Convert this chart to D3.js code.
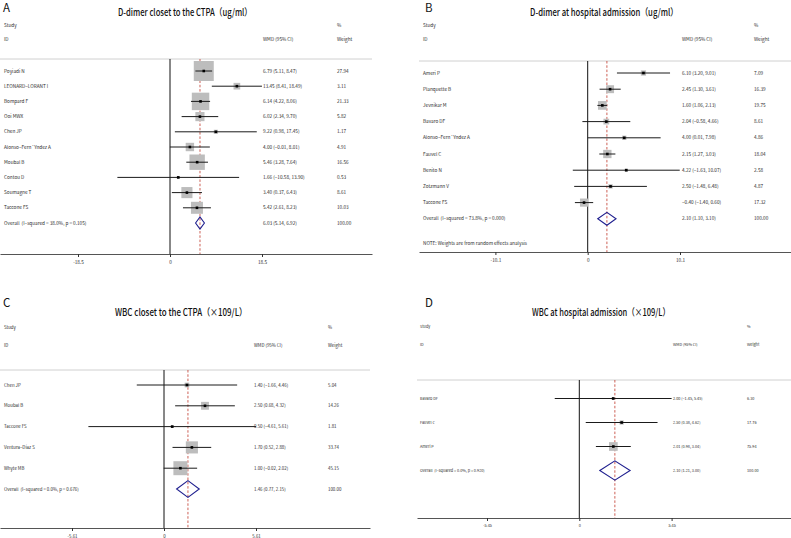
<!DOCTYPE html>
<html><head><meta charset="utf-8">
<script src="https://cdn.jsdelivr.net/npm/d3@7"></script>
<style>
body{margin:0;background:#fff}
svg{display:block}
text{font-family:"Noto Sans CJK SC","Noto Sans",sans-serif}
</style>
</head><body>
<svg id="chart" width="791" height="538"></svg>
<script>
// ---------- DATA ----------
const aTitle = "D-dimer closet to the CTPA（ug/ml）";
const aStudies = ["Poyiadi N","LEONARD−LORANT I","Bompard F","Ooi MWX","Chen JP","Alonso−Fern´Yndez A","Moubal B","Contou D","Soumagne T","Taccone FS"];
const aWmd    = [6.79, 13.45, 6.14, 6.02, 9.22, 4.00, 5.46, 1.66, 3.40, 5.42];
const aLo     = [5.11, 8.41, 4.22, 2.34, 0.98, -0.01, 3.28, -10.58, 0.37, 2.61];
const aHi     = [8.47, 18.49, 8.06, 9.70, 17.45, 8.01, 7.64, 13.90, 6.43, 8.23];
const aWeight = [27.94, 3.11, 21.33, 5.82, 1.17, 4.91, 16.56, 0.53, 8.61, 10.03];
const aOverall = [6.03, 5.14, 6.92];
const aOverallLabel = "Overall  (I−squared = 38.0%, p = 0.105)";
const aTicks = [-18.5, 0, 18.5];
const aTickLabels = ["-18.5", "0", "18.5"];

const bTitle = "D-dimer at hospital admission（ug/ml）";
const bStudies = ["Ameri P","Planquette B","Jevnikar M","Bavaro DF","Alonso−Fern´Yndez A","Fauvel C","Benito N","Zotzmann V","Taccone FS"];
const bWmd    = [6.10, 2.45, 1.60, 2.04, 4.00, 2.15, 4.22, 2.50, -0.40];
const bLo     = [3.20, 1.30, 1.06, -0.58, 0.01, 1.27, -1.63, -1.48, -1.40];
const bHi     = [9.01, 3.61, 2.13, 4.66, 7.98, 3.03, 10.07, 6.48, 0.60];
const bWeight = [7.09, 16.39, 19.75, 8.61, 4.86, 18.04, 2.58, 4.87, 17.32];
const bOverall = [2.10, 1.10, 3.10];
const bOverallLabel = "Overall  (I−squared = 73.8%, p = 0.000)";
const bNote = "NOTE: Weights are from random effects analysis";
const bTicks = [-10.1, 0, 10.1];
const bTickLabels = ["-10.1", "0", "10.1"];

const cTitle = "WBC closet to the CTPA（×109/L）";
const cStudies = ["Chen JP","Moubal B","Taccone FS","Ventura−Díaz S","Whyte MB"];
const cWmd    = [1.40, 2.50, 0.50, 1.70, 1.00];
const cLo     = [-1.66, 0.68, -4.61, 0.52, -0.02];
const cHi     = [4.46, 4.32, 5.61, 2.88, 2.02];
const cWeight = [5.04, 14.26, 1.81, 33.74, 45.15];
const cOverall = [1.46, 0.77, 2.15];
const cOverallLabel = "Overall  (I−squared = 0.0%, p = 0.676)";
const cTicks = [-5.61, 0, 5.61];
const cTickLabels = ["-5.61", "0", "5.61"];

const dTitle = "WBC at hospital admission（×109/L）";
const dStudies = ["Bavaro DF","Fauvel C","Ameri P"];
const dWmd    = [2.00, 2.50, 2.01];
const dLo     = [-1.45, 0.38, 0.98];
const dHi     = [5.45, 4.62, 3.04];
const dWeight = [6.30, 17.76, 75.94];
const dOverall = [2.10, 1.21, 3.00];
const dOverallLabel = "Overall  (I−squared = 0.0%, p = 0.920)";
const dTicks = [-5.45, 0, 5.45];
const dTickLabels = ["-5.45", "0", "5.45"];

// ---------- DRAWING ----------
const svg = d3.select("#chart");
const fmt = v => (v < 0 ? "−" : "") + Math.abs(v).toFixed(2);
const ciText = (v, lo, hi) => `${fmt(v)} (${fmt(lo)}, ${fmt(hi)})`;

function forest(p, L) {
  const g = svg.append("g");
  const n = p.studies.length;
  const xs = d3.scaleLinear().domain([0, p.ticks[2]]).range([L.zeroX, L.zeroX + L.tickPx]);
  const xAxisScale = d3.scaleLinear()
    .domain([xs.invert(L.hx0), xs.invert(L.hx1)]).range([L.hx0, L.hx1]);
  const rowY = i => L.rowY0 + i * L.step;
  const maxW = d3.max(p.weight);
  const txt = "#2b2b2b";

  // letter & title
  g.append("text").attr("x", L.letterX).attr("y", L.letterY).attr("font-size", 11.5)
    .attr("fill", "#111").text(L.letter);
  g.append("text").attr("x", L.titleCX).attr("y", L.titleY)
    .attr("text-anchor", "middle").attr("fill", "#111")
    .attr("font-size", 10).attr("font-weight", 500)
    .attr("textLength", L.titleW).attr("lengthAdjust", "spacingAndGlyphs")
    .text(p.title);

  // header
  const hs = L.fs;
  g.append("text").attr("x", L.labelX).attr("y", L.studyY).attr("font-size", hs).attr("fill", txt).text("Study");
  g.append("text").attr("x", L.labelX).attr("y", L.idY).attr("font-size", hs).attr("fill", txt).text("ID");
  g.append("text").attr("x", L.wmdX).attr("y", L.idY).attr("font-size", hs).attr("fill", txt).text("WMD (95% CI)");
  g.append("text").attr("x", L.pctX).attr("y", L.studyY).attr("font-size", hs).attr("fill", txt).text("%");
  g.append("text").attr("x", L.pctX).attr("y", L.idY).attr("font-size", hs).attr("fill", txt).text("Weight");
  g.append("line").attr("x1", L.hx0).attr("x2", L.hx1).attr("y1", L.headerY).attr("y2", L.headerY)
    .attr("stroke", "#d0d0d0").attr("stroke-width", 1);

  // zero line
  g.append("line").attr("x1", xs(0)).attr("x2", xs(0)).attr("y1", L.headerY).attr("y2", L.axisY)
    .attr("stroke", "#111").attr("stroke-width", 1);
  // overall dashed line
  g.append("line").attr("x1", xs(p.overall[0])).attr("x2", xs(p.overall[0]))
    .attr("y1", L.headerY).attr("y2", L.axisY)
    .attr("stroke", "#c0392b").attr("stroke-width", 0.8).attr("stroke-dasharray", "2.5,1.8");

  // boxes
  const idx = d3.range(n);
  const side = i => L.maxBox * Math.sqrt(p.weight[i] / maxW);
  g.selectAll(".box").data(idx).join("rect")
    .attr("x", i => xs(p.wmd[i]) - side(i) / 2)
    .attr("y", i => rowY(i) - side(i) / 2)
    .attr("width", side).attr("height", side)
    .attr("fill", "#bdbdbd");
  // CI lines
  g.selectAll(".ci").data(idx).join("line")
    .attr("x1", i => xs(p.lo[i])).attr("x2", i => xs(p.hi[i]))
    .attr("y1", rowY).attr("y2", rowY)
    .attr("stroke", "#1a1a1a").attr("stroke-width", 1);
  // points
  g.selectAll(".pt").data(idx).join("rect")
    .attr("x", i => xs(p.wmd[i]) - 1.3).attr("y", i => rowY(i) - 1.3)
    .attr("width", 2.6).attr("height", 2.6).attr("fill", "#000");

  // texts per row
  g.selectAll(".lab").data(idx).join("text")
    .attr("x", L.labelX).attr("y", i => rowY(i) + L.fs * 0.35)
    .attr("font-size", L.fs).attr("fill", txt).text(i => p.studies[i]);
  g.selectAll(".est").data(idx).join("text")
    .attr("x", L.wmdX).attr("y", i => rowY(i) + L.fs * 0.35)
    .attr("font-size", L.fs).attr("fill", txt).text(i => ciText(p.wmd[i], p.lo[i], p.hi[i]));
  g.selectAll(".wt").data(idx).join("text")
    .attr("x", L.pctX).attr("y", i => rowY(i) + L.fs * 0.35)
    .attr("font-size", L.fs).attr("fill", txt).text(i => p.weight[i].toFixed(2));

  // overall row
  const oy = rowY(n);
  const dh = L.step * 0.4;
  const [ov, olo, ohi] = p.overall;
  g.append("path")
    .attr("d", `M${xs(olo)},${oy} L${xs(ov)},${oy - dh} L${xs(ohi)},${oy} L${xs(ov)},${oy + dh} Z`)
    .attr("fill", "none").attr("stroke", "#1f1f8f").attr("stroke-width", 1.1);
  g.append("text").attr("x", L.labelX).attr("y", oy + L.fs * 0.35).attr("font-size", L.fs)
    .attr("fill", txt).style("white-space", "pre").text(p.overallLabel);
  g.append("text").attr("x", L.wmdX).attr("y", oy + L.fs * 0.35).attr("font-size", L.fs)
    .attr("fill", txt).text(ciText(ov, olo, ohi));
  g.append("text").attr("x", L.pctX).attr("y", oy + L.fs * 0.35).attr("font-size", L.fs)
    .attr("fill", txt).text("100.00");
  if (p.note) {
    g.append("text").attr("x", L.labelX).attr("y", L.noteY).attr("font-size", L.fs)
      .attr("fill", txt).text(p.note);
  }

  // axis
  const ax = g.append("g").attr("transform", `translate(0,${L.axisY})`)
    .call(d3.axisBottom(xAxisScale).tickValues(p.ticks)
      .tickFormat((d, i) => p.tickLabels[i]).tickSizeOuter(0).tickSizeInner(3));
  ax.select(".domain").attr("stroke", "#555").attr("stroke-width", 1);
  ax.selectAll(".tick line").attr("stroke", "#333");
  ax.selectAll(".tick text").attr("font-size", L.fs).attr("fill", txt)
    .attr("font-family", '"Noto Sans CJK SC","Noto Sans",sans-serif').attr("dy", "0.9em");
}

forest({title: aTitle, studies: aStudies, wmd: aWmd, lo: aLo, hi: aHi, weight: aWeight,
  overall: aOverall, overallLabel: aOverallLabel, ticks: aTicks, tickLabels: aTickLabels},
  {letter: "A", letterX: 3, letterY: 11.5, titleCX: 185, titleY: 15.5, titleW: 134,
   labelX: 4, studyY: 26.8, idY: 40.8, wmdX: 263, pctX: 337, headerY: 59, hx0: 0, hx1: 372,
   rowY0: 71, step: 15.2, axisY: 254, zeroX: 170, tickPx: 92, maxBox: 20, fs: 4.7});

forest({title: bTitle, studies: bStudies, wmd: bWmd, lo: bLo, hi: bHi, weight: bWeight,
  overall: bOverall, overallLabel: bOverallLabel, ticks: bTicks, tickLabels: bTickLabels, note: bNote},
  {letter: "B", letterX: 425, letterY: 11.5, titleCX: 604, titleY: 15.5, titleW: 148,
   labelX: 423, studyY: 26.8, idY: 40.8, wmdX: 682, pctX: 754, headerY: 61, hx0: 419, hx1: 791,
   rowY0: 73, step: 16.2, axisY: 252, zeroX: 587.7, tickPx: 92.3, maxBox: 8.7, fs: 4.7, noteY: 244.5});

forest({title: cTitle, studies: cStudies, wmd: cWmd, lo: cLo, hi: cHi, weight: cWeight,
  overall: cOverall, overallLabel: cOverallLabel, ticks: cTicks, tickLabels: cTickLabels},
  {letter: "C", letterX: 3, letterY: 307, titleCX: 181, titleY: 315.5, titleW: 132,
   labelX: 4, studyY: 328.5, idY: 346.5, wmdX: 254, pctX: 328, headerY: 370, hx0: 0, hx1: 370,
   rowY0: 385, step: 20.8, axisY: 528, zeroX: 164, tickPx: 92, maxBox: 14, fs: 4.4});

forest({title: dTitle, studies: dStudies, wmd: dWmd, lo: dLo, hi: dHi, weight: dWeight,
  overall: dOverall, overallLabel: dOverallLabel, ticks: dTicks, tickLabels: dTickLabels},
  {letter: "D", letterX: 425, letterY: 307, titleCX: 601, titleY: 315.5, titleW: 138,
   labelX: 420, studyY: 328.2, idY: 346.2, wmdX: 673, pctX: 747, headerY: 380, hx0: 417, hx1: 791,
   rowY0: 398.5, step: 24, axisY: 518, zeroX: 579.3, tickPx: 92.3, maxBox: 8.7, fs: 3.8});
</script>
</body></html>
